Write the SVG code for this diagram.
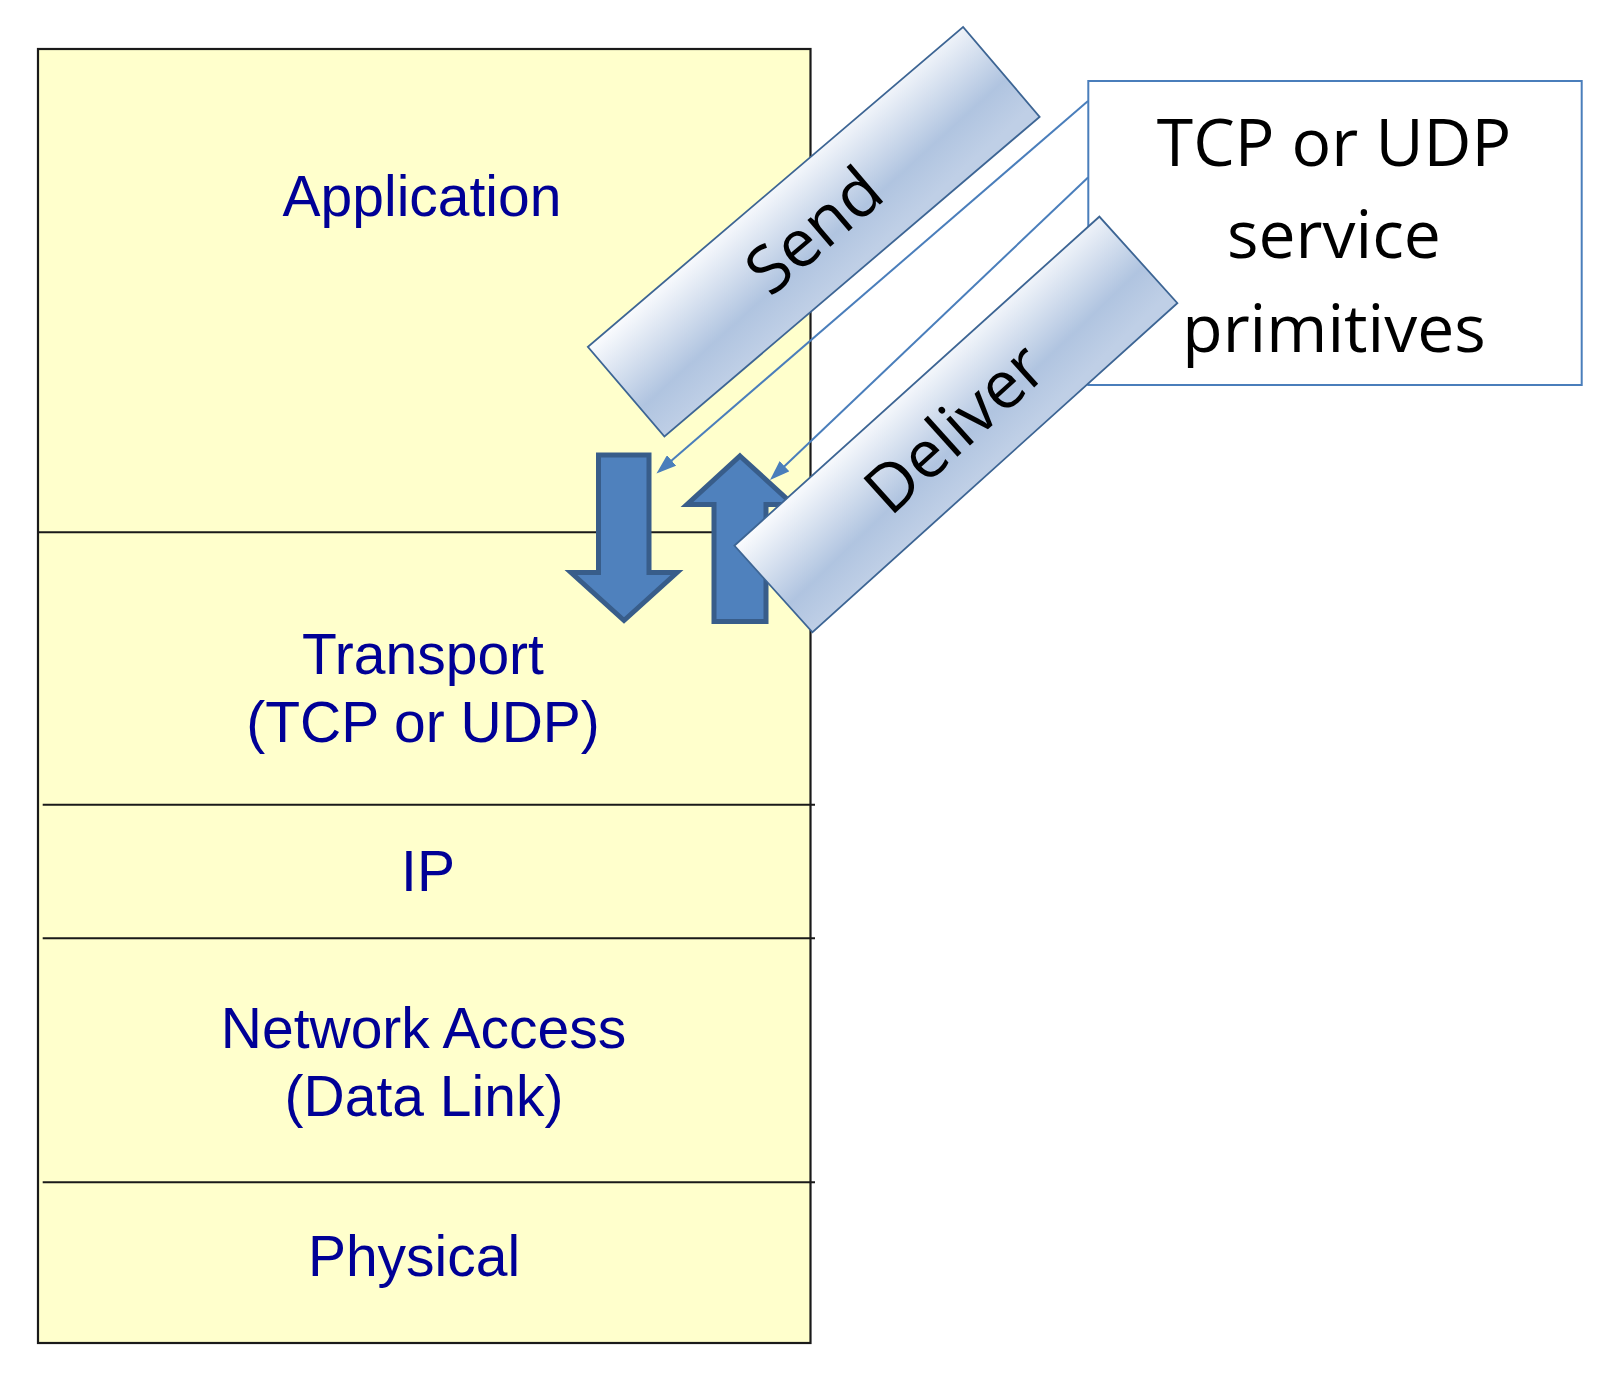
<svg xmlns="http://www.w3.org/2000/svg" width="1608" height="1392" viewBox="0 0 1608 1392">
  <style>
    .layer { font-family: "Liberation Sans", Arial, sans-serif; font-size: 57px; fill: #000096; text-anchor: middle; }
    .callout { font-family: "Open Sans", "Noto Sans", sans-serif; fill: #000000; text-anchor: middle; }
    .divider { stroke: #1a1a1a; stroke-width: 2; }
    .prim { fill: url(#primGrad); stroke: #3d6594; stroke-width: 1.8; }
    .block { fill: #4f81bd; stroke: #385d8a; stroke-width: 5; stroke-linejoin: miter; }
    .thin { fill: none; stroke: #4a7ebb; stroke-width: 2; marker-end: url(#tip); }
  </style>
  <defs>
    <linearGradient id="primGrad" x1="0" y1="0" x2="0.12" y2="1">
      <stop offset="0" stop-color="#fbfcfe"/>
      <stop offset="0.68" stop-color="#b0c4e0"/>
      <stop offset="1" stop-color="#bfcfe6"/>
    </linearGradient>
    <marker id="tip" viewBox="0 0 20 14" refX="16" refY="7" markerWidth="20" markerHeight="14" orient="auto" markerUnits="userSpaceOnUse">
      <path d="M0,0 L20,7 L0,14 z" fill="#4a7ebb"/>
    </marker>
  </defs>

  <rect width="1608" height="1392" fill="#ffffff"/>

  <g id="stack">
    <rect x="38" y="49" width="772.5" height="1294" fill="#ffffcc" stroke="#1a1a1a" stroke-width="2.2"/>
    <line class="divider" x1="38" y1="532.3" x2="810.5" y2="532.3"/>
    <line class="divider" x1="42.7" y1="804.8" x2="815" y2="804.8"/>
    <line class="divider" x1="42.7" y1="938.3" x2="815" y2="938.3"/>
    <line class="divider" x1="42.7" y1="1182.3" x2="815" y2="1182.3"/>
  </g>

  <g id="layer-application"><text class="layer" x="422" y="215.7">Application</text></g>
  <g id="layer-transport">
    <text class="layer" x="423" y="674">Transport</text>
    <text class="layer" x="423" y="742">(TCP or UDP)</text>
  </g>
  <g id="layer-ip"><text class="layer" x="428" y="891">IP</text></g>
  <g id="layer-network">
    <text class="layer" x="423.5" y="1047.7">Network Access</text>
    <text class="layer" x="424" y="1116">(Data Link)</text>
  </g>
  <g id="layer-physical"><text class="layer" x="414" y="1276">Physical</text></g>

  <g id="arrow-down"><path class="block" d="M598.5,455 L649,455 L649,572.5 L677,572.5 L624,620.5 L571,572.5 L598.5,572.5 Z"/></g>
  <g id="arrow-up"><path class="block" d="M740,456 L793,504.5 L766,504.5 L766,621.5 L714,621.5 L714,504.5 L687,504.5 Z"/></g>

  <g id="primitives-box">
    <rect x="1088.3" y="81" width="493.4" height="304" fill="#ffffff" stroke="#4a7ebb" stroke-width="2"/>
    <text class="callout" font-size="66" x="1334" y="165.7">TCP or UDP</text>
    <text class="callout" font-size="66" x="1334" y="258.3">service</text>
    <text class="callout" font-size="66" x="1334" y="351.7">primitives</text>
  </g>

  <g id="send" transform="rotate(-40.44 813.75 231.8)">
    <rect class="prim" x="567.25" y="172.8" width="493" height="118"/>
    <text class="callout" font-size="66" x="814.75" y="254">Send</text>
  </g>

  <g id="connectors">
    <path class="thin" d="M1088,101 L659.5,470.9"/>
    <path class="thin" d="M1088,177.5 L772.9,477.2"/>
  </g>

  <g id="deliver" transform="rotate(-42.04 955.9 424.4)">
    <rect class="prim" x="710.2" y="366.15" width="491.4" height="116.5"/>
    <text class="callout" font-size="66" x="952.5" y="449.5">Deliver</text>
  </g>
</svg>
